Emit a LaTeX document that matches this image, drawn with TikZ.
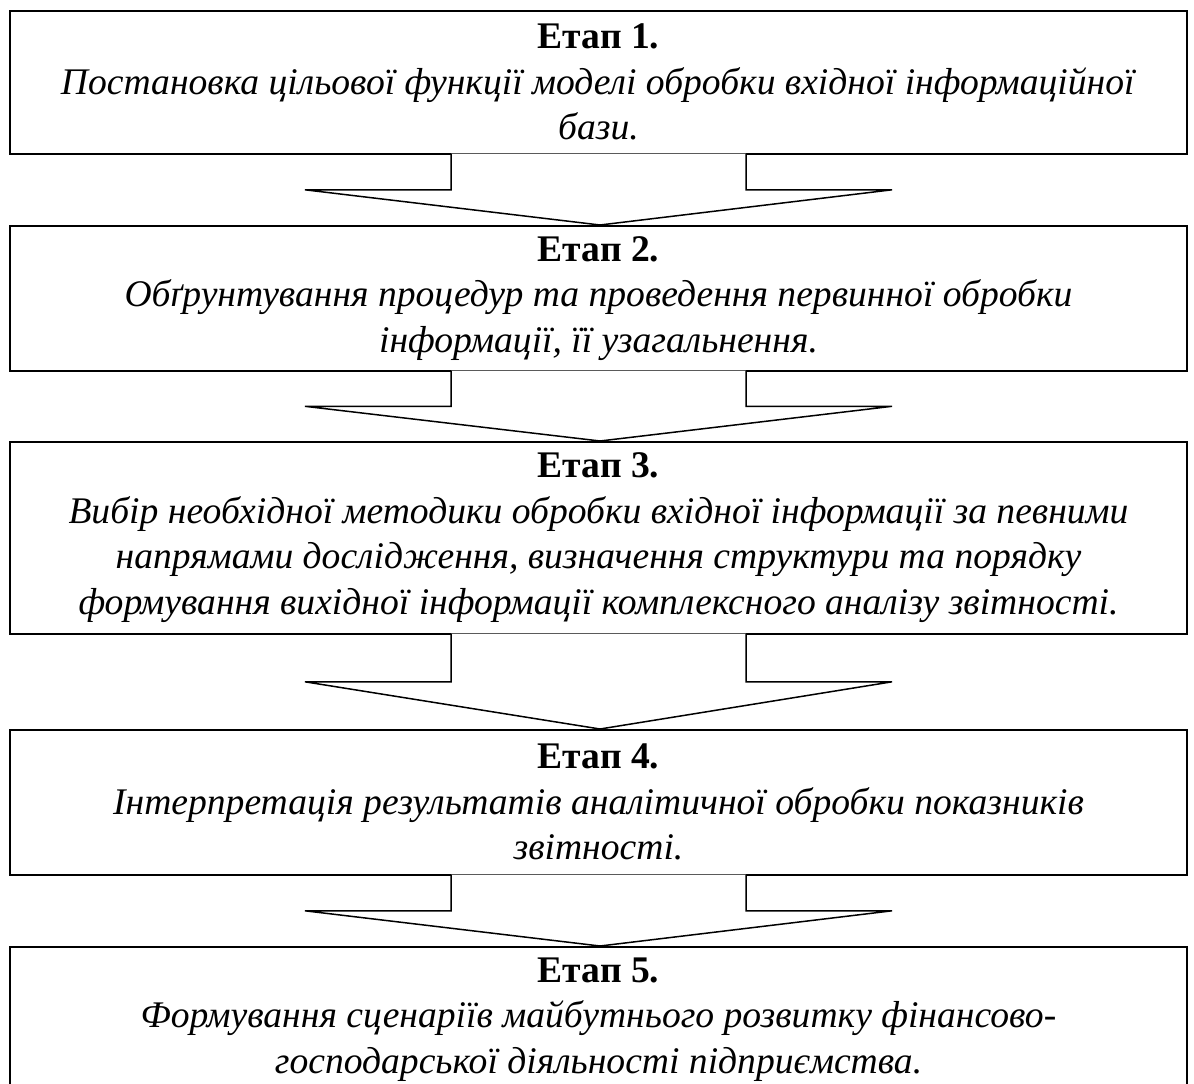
\documentclass[tikz,border=0pt]{standalone}
\usepackage{fontspec}
\setmainfont{Liberation Serif}
\usetikzlibrary{calc}

\tikzset{
  stagebox/.style={draw, line width=1.6pt, fill=white, minimum width=1177pt,
    inner sep=0pt, align=center, anchor=north,
    font=\fontsize{37.6}{45.5}\selectfont},
  blockarrow/.style={draw, fill=white, line width=1.5pt, line join=miter}
}

% Hollow block arrow from the bottom of one stage box to the top of the next
\newcommand{\stagearrow}[2]{%
  \draw[blockarrow] let \p1=(#1.south), \p2=(#2.north) in
    (\x1-147.5pt, \y1+1pt) -- (\x1-147.5pt, {(\y1+\y2)/2})
    -- (\x1-293.5pt, {(\y1+\y2)/2}) -- (\x1+1.5pt, \y2)
    -- (\x1+293.5pt, {(\y1+\y2)/2}) -- (\x1+147.5pt, {(\y1+\y2)/2})
    -- (\x1+147.5pt, \y1+1pt);%
}

\begin{document}
\begin{tikzpicture}[x=1pt, y=-1pt]
  \useasboundingbox (0,0) rectangle (1194,1084);
  \fill[white] (0,0) rectangle (1194,1084);

  \node[stagebox, minimum height=143pt] (b1) at (598.5,10)
    {\textbf{Етап 1.}\\
     \textit{Постановка цільової функції моделі обробки вхідної інформаційної}\\
     \textit{бази.}};
  \node[stagebox, minimum height=145pt] (b2) at (598.5,225)
    {\textbf{Етап 2.}\\
     \textit{Обґрунтування процедур та проведення первинної обробки}\\
     \textit{інформації, її узагальнення.}};
  \node[stagebox, minimum height=192pt] (b3) at (598.5,441)
    {\textbf{Етап 3.}\\
     \textit{Вибір необхідної методики обробки вхідної інформації за певними}\\
     \textit{напрямами дослідження, визначення структури та порядку}\\
     \textit{формування вихідної інформації комплексного аналізу звітності.}};
  \node[stagebox, minimum height=145pt] (b4) at (598.5,729)
    {\textbf{Етап 4.}\\
     \textit{Інтерпретація результатів аналітичної обробки показників}\\
     \textit{звітності.}};
  \node[stagebox, minimum height=145pt] (b5) at (598.5,946)
    {\textbf{Етап 5.}\\
     \textit{Формування сценаріїв майбутнього розвитку фінансово-}\\
     \textit{господарської діяльності підприємства.}};

  \stagearrow{b1}{b2}
  \stagearrow{b2}{b3}
  \stagearrow{b3}{b4}
  \stagearrow{b4}{b5}
\end{tikzpicture}
\end{document}
